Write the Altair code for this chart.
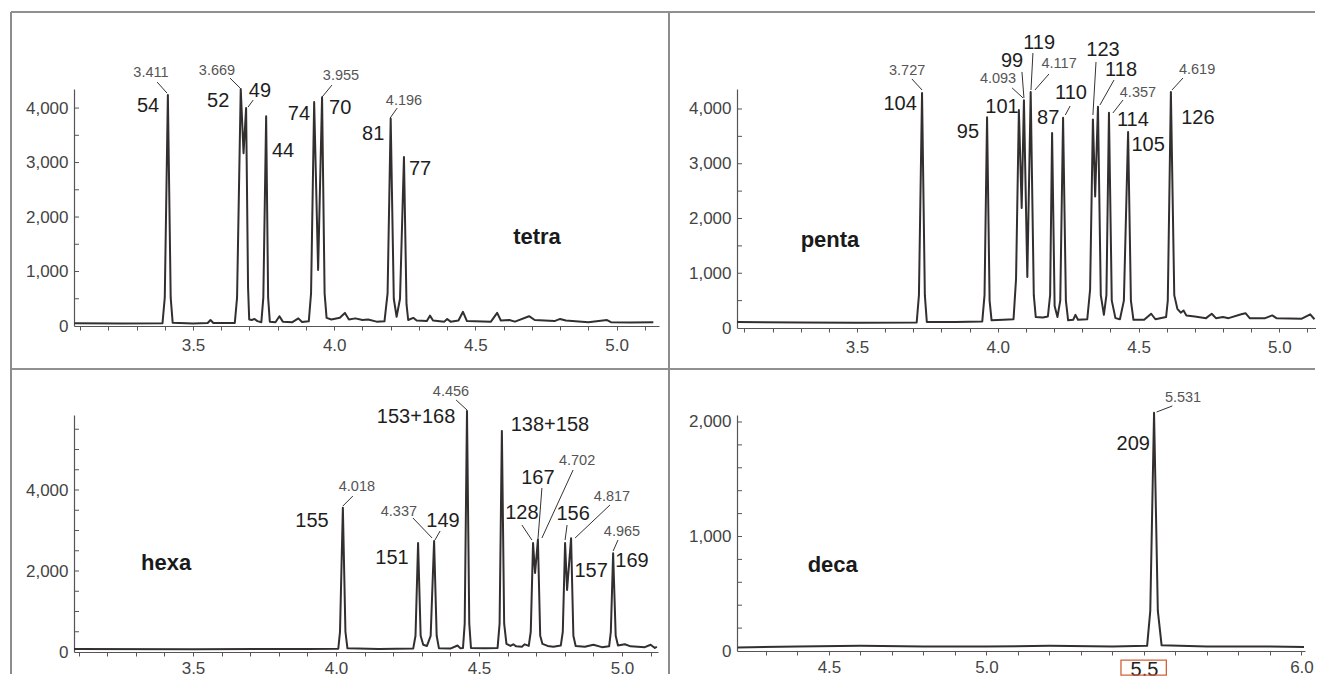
import altair as alt
import pandas as pd

FONT = "Liberation Sans"

# ---------------- tetra ----------------
tetra_t = [3.080, 3.250, 3.392, 3.400, 3.411, 3.421, 3.428, 3.500, 3.552, 3.562, 3.572, 3.648, 3.656, 3.669,
           3.679, 3.688, 3.695, 3.699, 3.708, 3.718, 3.728, 3.742, 3.749, 3.759, 3.766, 3.772, 3.792, 3.806,
           3.818, 3.852, 3.873, 3.886, 3.910, 3.918, 3.929, 3.943, 3.957, 3.966, 3.973, 3.990, 4.020, 4.038,
           4.052, 4.075, 4.100, 4.120, 4.150, 4.178, 4.189, 4.200, 4.211, 4.221, 4.233, 4.247, 4.256, 4.262,
           4.280, 4.292, 4.328, 4.339, 4.350, 4.390, 4.400, 4.412, 4.440, 4.456, 4.470, 4.555, 4.577, 4.590,
           4.620, 4.640, 4.690, 4.710, 4.780, 4.800, 4.820, 4.900, 4.966, 4.980, 5.050, 5.130]
tetra_v = [50, 45, 50, 520, 4240, 520, 60, 45, 55, 110, 55, 55, 520, 4350,
           3170, 4000, 700, 120, 110, 130, 90, 70, 520, 3850, 520, 80, 70, 180,
           80, 70, 140, 75, 85, 600, 4110, 1030, 4200, 600, 150, 120, 150, 240,
           120, 140, 110, 120, 80, 85, 600, 3810, 500, 170, 500, 3100, 400, 110,
           150, 100, 90, 190, 100, 80, 130, 80, 100, 260, 90, 80, 240, 100,
           110, 80, 180, 110, 90, 130, 100, 70, 110, 70, 65, 70]
tetra_num_text = ["54", "52", "49", "44", "74", "70", "81", "77"]
tetra_num_t = [3.341, 3.589, 3.737, 3.819, 3.875, 4.021, 4.138, 4.304]
tetra_num_v = [4040, 4130, 4310, 3210, 3890, 4010, 3520, 2880]
tetra_rt_text = ["3.411", "3.669", "3.955", "4.196"]
tetra_rt_t = [3.351, 3.585, 4.024, 4.247]
tetra_rt_v = [4640, 4680, 4590, 4130]
tetra_lead_t1 = [3.373, 3.631, 3.992, 4.223, 3.713]
tetra_lead_v1 = [4477, 4550, 4422, 4000, 4147]
tetra_lead_t2 = [3.408, 3.667, 3.957, 4.198, 3.695]
tetra_lead_v2 = [4275, 4367, 4202, 3817, 4018]

# ---------------- penta ----------------
penta_t = [3.074, 3.300, 3.500, 3.712, 3.720, 3.731, 3.741, 3.748, 3.850, 3.945, 3.953, 3.962, 3.971, 3.978,
           4.020, 4.056, 4.065, 4.075, 4.085, 4.093, 4.105, 4.117, 4.128, 4.135, 4.160, 4.178, 4.186, 4.193,
           4.202, 4.212, 4.222, 4.232, 4.242, 4.250, 4.268, 4.276, 4.285, 4.318, 4.328, 4.338, 4.346, 4.356,
           4.366, 4.377, 4.386, 4.395, 4.405, 4.418, 4.434, 4.448, 4.463, 4.473, 4.482, 4.520, 4.545, 4.560,
           4.598, 4.604, 4.615, 4.627, 4.638, 4.650, 4.660, 4.670, 4.700, 4.740, 4.760, 4.775, 4.800, 4.820,
           4.865, 4.880, 4.895, 4.950, 4.975, 4.990, 5.080, 5.110, 5.125]
penta_v = [110, 100, 95, 100, 600, 4290, 600, 110, 110, 120, 600, 3850, 500, 140,
           150, 160, 900, 3980, 2190, 4160, 930, 4310, 600, 200, 190, 210, 600, 3560,
           400, 200, 500, 3840, 500, 140, 150, 240, 150, 160, 700, 3810, 2400, 4040,
           600, 240, 600, 3930, 500, 180, 160, 500, 3580, 500, 150, 150, 260, 160,
           200, 500, 4310, 600, 350, 280, 320, 230, 210, 180, 260, 180, 200, 180,
           250, 270, 180, 180, 230, 180, 170, 250, 160]
penta_num_text = ["104", "95", "101", "99", "119", "87", "110", "123", "118", "114", "105", "126"]
penta_num_t = [3.653, 3.894, 4.015, 4.051, 4.147, 4.179, 4.260, 4.374, 4.438, 4.480, 4.534, 4.711]
penta_num_v = [4090, 3580, 4040, 4880, 5200, 3840, 4290, 5080, 4710, 3800, 3340, 3840]
penta_rt_text = ["3.727", "4.093", "4.117", "4.357", "4.619"]
penta_rt_t = [3.678, 4.001, 4.218, 4.498, 4.708]
penta_rt_v = [4690, 4550, 4820, 4290, 4710]
penta_lead_t1 = [3.695, 4.051, 4.182, 4.445, 4.658, 4.086, 4.125, 4.257, 4.349, 4.413]
penta_lead_v1 = [4548, 4384, 4639, 4164, 4566, 4676, 5023, 4055, 4858, 4530]
penta_lead_t2 = [3.731, 4.090, 4.132, 4.409, 4.619, 4.093, 4.118, 4.240, 4.338, 4.363]
penta_lead_v2 = [4347, 4201, 4347, 3927, 4347, 4201, 4347, 3890, 3890, 4073]

# ---------------- hexa ----------------
hexa_t = [3.084, 3.500, 3.900, 4.008, 4.014, 4.024, 4.033, 4.040, 4.150, 4.270, 4.278, 4.287, 4.296, 4.305,
          4.318, 4.331, 4.343, 4.352, 4.360, 4.400, 4.425, 4.435, 4.444, 4.450, 4.458, 4.466, 4.472, 4.520,
          4.565, 4.572, 4.580, 4.588, 4.596, 4.610, 4.620, 4.630, 4.650, 4.660, 4.674, 4.681, 4.689, 4.696,
          4.706, 4.714, 4.722, 4.740, 4.760, 4.786, 4.793, 4.801, 4.808, 4.822, 4.830, 4.838, 4.870, 4.900,
          4.930, 4.955, 4.961, 4.969, 4.978, 4.986, 5.010, 5.030, 5.080, 5.100, 5.115, 5.122]
hexa_v = [75, 70, 75, 80, 500, 3560, 500, 90, 75, 85, 400, 2690, 400, 180,
          150, 400, 2740, 400, 90, 85, 160, 90, 100, 700, 5950, 700, 100, 90,
          100, 700, 5460, 700, 200, 150, 190, 140, 130, 190, 150, 500, 2690, 1950,
          2770, 400, 200, 150, 130, 160, 500, 2690, 1530, 2810, 400, 150, 130, 180,
          120, 140, 500, 2440, 400, 160, 190, 140, 120, 180, 100, 130]
hexa_num_text = ["155", "151", "149", "153+168", "138+158", "167", "128", "156", "157", "169"]
hexa_num_t = [3.916, 4.196, 4.374, 4.280, 4.748, 4.706, 4.650, 4.829, 4.892, 5.035]
hexa_num_v = [3230, 2320, 3230, 5800, 5600, 4300, 3430, 3410, 2000, 2250]
hexa_rt_text = ["4.018", "4.337", "4.456", "4.702", "4.817", "4.965"]
hexa_rt_t = [4.073, 4.220, 4.402, 4.843, 4.965, 5.000]
hexa_rt_v = [4070, 3460, 6420, 4720, 3830, 2960]
hexa_lead_t1 = [4.059, 4.269, 4.420, 4.829, 4.958, 4.986, 4.650, 4.720, 4.808, 4.364]
hexa_lead_v1 = [3852, 3309, 6222, 4494, 3630, 2765, 3136, 4049, 3136, 2988]
hexa_lead_t2 = [4.024, 4.336, 4.458, 4.720, 4.836, 4.969, 4.685, 4.706, 4.801, 4.346]
hexa_lead_v2 = [3605, 2815, 5975, 2815, 2815, 2494, 2765, 2765, 2765, 2765]

# ---------------- deca ----------------
deca_t = [4.210, 4.400, 4.600, 4.800, 5.000, 5.200, 5.400, 5.510, 5.520, 5.532, 5.544, 5.556, 5.700, 5.850, 6.008]
deca_v = [30, 40, 45, 40, 40, 45, 40, 45, 350, 2080, 350, 50, 40, 40, 35]
deca_num_text = ["209"]
deca_num_t = [5.466]
deca_num_v = [1810]
deca_rt_text = ["5.531"]
deca_rt_t = [5.624]
deca_rt_v = [2210]
deca_lead_t1 = [5.590]
deca_lead_v1 = [2140]
deca_lead_t2 = [5.540]
deca_lead_v2 = [2087]

# axis ticks
x_ticks_main = [3.1, 3.2, 3.3, 3.4, 3.5, 3.6, 3.7, 3.8, 3.9, 4.0, 4.1, 4.2, 4.3, 4.4, 4.5, 4.6, 4.7, 4.8, 4.9, 5.0, 5.1]
x_ticks_deca = [4.3, 4.4, 4.5, 4.6, 4.7, 4.8, 4.9, 5.0, 5.1, 5.2, 5.3, 5.4, 5.5, 5.6, 5.7, 5.8, 5.9, 6.0]
y_labels_tp = [0, 1000, 2000, 3000, 4000]
y_ticks_tp = [500, 1000, 1500, 2000, 2500, 3000, 3500, 4000]
y_labels_hexa = [0, 2000, 4000]
y_ticks_hexa = [500, 1000, 1500, 2000, 2500, 3000, 3500, 4000, 4500, 5000, 5500]
y_labels_deca = [0, 1000, 2000]
y_ticks_deca = [200, 400, 600, 800, 1000, 1200, 1400, 1600, 1800, 2000]

LABEL_EXPR = "abs(datum.value*2 - round(datum.value*2)) < 0.001 ? format(datum.value, '.1f') : ''"


def panel(t, v, xdom, ydom, w, h, xticks, ylabels, yticks, nums, rts, leads, name, name_pos,
          xlabpad=7, highlight=None, extra=()):
    xaxis_kw = dict(values=xticks, labelExpr=LABEL_EXPR, title=None, grid=False, tickSize=4,
                    tickColor="#555", domainColor="#555", domainWidth=1.2, labelColor="#444",
                    labelFont=FONT, labelFontSize=17, labelPadding=xlabpad, labelOverlap=False,
                    labelFlush=False)
    if highlight is not None:
        xaxis_kw["labelFontSize"] = {"condition": {"test": f"abs(datum.value - {highlight}) < 0.001", "value": 20}, "value": 17}
        xaxis_kw["labelColor"] = {"condition": {"test": f"abs(datum.value - {highlight}) < 0.001", "value": "#222"}, "value": "#444"}
    xaxis = alt.Axis(**xaxis_kw)
    yaxis = alt.Axis(values=ylabels, format=",.0f", title=None, grid=False, ticks=False, tickSize=0,
                     domainColor="#555", domainWidth=1.2, labelColor="#444", labelFont=FONT,
                     labelFontSize=17, labelPadding=6)
    xs = alt.Scale(domain=xdom, nice=False, zero=False)
    ys = alt.Scale(domain=ydom, nice=False, zero=False)

    def X(f):
        return alt.X(f, type="quantitative", scale=xs, axis=xaxis)

    def Y(f):
        return alt.Y(f, type="quantitative", scale=ys, axis=yaxis)

    trace = alt.Chart(pd.DataFrame({"t": t, "v": v})).mark_line(
        color="#332f2f", strokeWidth=2.0, strokeJoin="round").encode(x=X("t"), y=Y("v"))

    ytick = alt.Chart(pd.DataFrame({"v": yticks})).mark_rule(color="#555", strokeWidth=1).encode(
        y=Y("v"), x=alt.value(0), x2=alt.value(5))

    ntext, nt, nv = nums
    num_layer = alt.Chart(pd.DataFrame({"t": nt, "v": nv, "lab": ntext})).mark_text(
        font=FONT, fontSize=20, color="#1e1e1e", align="center", baseline="middle").encode(
        x=X("t"), y=Y("v"), text="lab:N")

    rtext, rt, rv = rts
    rt_layer = alt.Chart(pd.DataFrame({"t": rt, "v": rv, "lab": rtext})).mark_text(
        font=FONT, fontSize=14.5, color="#555", align="center", baseline="middle").encode(
        x=X("t"), y=Y("v"), text="lab:N")

    lt1, lv1, lt2, lv2 = leads
    lead_layer = alt.Chart(pd.DataFrame({"t1": lt1, "v1": lv1, "t2": lt2, "v2": lv2})).mark_rule(
        color="#333", strokeWidth=1).encode(x=X("t1"), y=Y("v1"), x2=alt.X2("t2"), y2=alt.Y2("v2"))

    name_layer = alt.Chart(pd.DataFrame({"t": [name_pos[0]], "v": [name_pos[1]], "lab": [name]})).mark_text(
        font=FONT, fontSize=22, fontWeight="bold", color="#1a1a1a", align="center", baseline="middle").encode(
        x=X("t"), y=Y("v"), text="lab:N")

    layers = [trace, ytick, lead_layer, num_layer, rt_layer, name_layer]
    for e in extra:
        layers.append(e(X, Y))
    return alt.layer(*layers).properties(width=w, height=h)


one = pd.DataFrame({"a": [0]})


def frame_top(X, Y):
    return alt.Chart(one).mark_rule(color="#222", strokeWidth=1.2).encode(
        x=alt.value(-63), x2=alt.value(1241), y=alt.value(-77))


def frame_mid(X, Y):
    return alt.Chart(one).mark_rule(color="#222", strokeWidth=1.2).encode(
        x=alt.value(-63), x2=alt.value(1241), y=alt.value(280))


def frame_left(X, Y):
    return alt.Chart(one).mark_rule(color="#8c8c8c", strokeWidth=2).encode(
        x=alt.value(-63), y=alt.value(-77), y2=alt.value(585))


def frame_div(X, Y):
    return alt.Chart(one).mark_rule(color="#8c8c8c", strokeWidth=2).encode(
        x=alt.value(595), y=alt.value(-77), y2=alt.value(585))


box_t = [5.427, 5.571]
box_v = [-80, -210]


def red_box(X, Y):
    return alt.Chart(pd.DataFrame({"t1": [box_t[0]], "t2": [box_t[1]], "v1": [box_v[0]], "v2": [box_v[1]]})).mark_rect(
        fillOpacity=0, stroke="#d4603c", strokeWidth=1.3).encode(
        x=X("t1"), x2=alt.X2("t2"), y=Y("v1"), y2=alt.Y2("v2"))


tl = panel(tetra_t, tetra_v, [3.0786, 5.1501], [0, 4350], 585, 237, x_ticks_main, y_labels_tp, y_ticks_tp,
           (tetra_num_text, tetra_num_t, tetra_num_v), (tetra_rt_text, tetra_rt_t, tetra_rt_v),
           (tetra_lead_t1, tetra_lead_v1, tetra_lead_t2, tetra_lead_v2), "tetra", (4.718, 1630),
           extra=(frame_top, frame_mid, frame_left, frame_div))
tr = panel(penta_t, penta_v, [3.0737, 5.1305], [0, 4365], 579, 239, x_ticks_main, y_labels_tp, y_ticks_tp,
           (penta_num_text, penta_num_t, penta_num_v), (penta_rt_text, penta_rt_t, penta_rt_v),
           (penta_lead_t1, penta_lead_v1, penta_lead_t2, penta_lead_v2), "penta", (3.404, 1610))
bl = panel(hexa_t, hexa_v, [3.0839, 5.1259], [0, 5852], 584, 237, x_ticks_main, y_labels_hexa, y_ticks_hexa,
           (hexa_num_text, hexa_num_t, hexa_num_v), (hexa_rt_text, hexa_rt_t, hexa_rt_v),
           (hexa_lead_t1, hexa_lead_v1, hexa_lead_t2, hexa_lead_v2), "hexa", (3.406, 2200), xlabpad=4)
br = panel(deca_t, deca_v, [4.208, 6.0112], [0, 2061], 568, 236, x_ticks_deca, y_labels_deca, y_ticks_deca,
           (deca_num_text, deca_num_t, deca_num_v), (deca_rt_text, deca_rt_t, deca_rt_v),
           (deca_lead_t1, deca_lead_v1, deca_lead_t2, deca_lead_v2), "deca", (4.512, 750), xlabpad=4,
           highlight=5.5, extra=(red_box,))

chart = alt.concat(tl, tr, bl, br, columns=2, spacing={"row": 87, "column": 78}, bounds="flush").properties(
    padding={"left": 2, "top": 3, "right": 0, "bottom": 0}, background="white"
).configure_view(stroke=None)

chart.save("out.html", embed_options={"renderer": "svg", "actions": False})
